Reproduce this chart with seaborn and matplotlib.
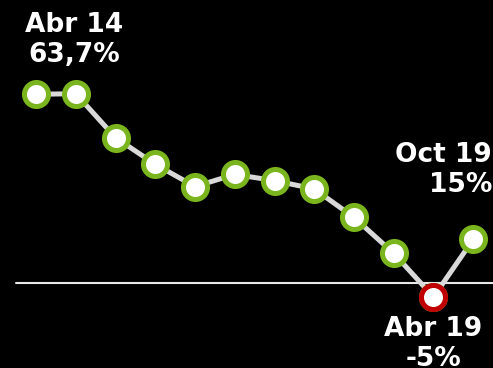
import matplotlib
matplotlib.use("Agg")
import matplotlib.pyplot as plt
import seaborn as sns
import pandas as pd

# Data (half-yearly values, %)
periods = ["Abr 14", "Oct 14", "Abr 15", "Oct 15", "Abr 16", "Oct 16",
           "Abr 17", "Oct 17", "Abr 18", "Oct 18", "Abr 19", "Oct 19"]
values = [63.7, 63.9, 49.1, 40.1, 32.6, 36.7, 34.6, 31.8, 22.2, 10.1, -4.6, 14.8]
labels = {0: "Abr 14\n63,7%", 10: "Abr 19\n-5%", 11: "Oct 19\n15%"}

df = pd.DataFrame({"idx": range(len(periods)), "period": periods, "value": values})
low = df.loc[[df["value"].idxmin()]]

sns.set_style("dark")
plt.rcParams["font.family"] = ["DejaVu Sans"]

fig = plt.figure(figsize=(4.93, 3.68), dpi=100, facecolor="black")
ax = fig.add_axes([0, 0, 1, 1])
ax.set_facecolor("black")

green = "#7ab51d"
red = "#c00000"

ax.axhline(0, xmin=16 / 493, xmax=1, color="#e8e8e8", lw=1.5, zorder=1)

sns.lineplot(data=df, x="idx", y="value", ax=ax, color="#d9d9d9", lw=3.6,
             marker="o", markersize=17.3, markerfacecolor="white",
             markeredgecolor=green, markeredgewidth=3.6, zorder=2)
sns.lineplot(data=low, x="idx", y="value", ax=ax, color=red, lw=0,
             marker="o", markersize=17.3, markerfacecolor="white",
             markeredgecolor=red, markeredgewidth=3.6, zorder=3)

# text labels
ax.annotate(labels[0], xy=(0, values[0]), xytext=(38, 82), textcoords="offset pixels",
            ha="center", va="top", color="white", fontsize=19, fontweight="bold",
            multialignment="center")
ax.annotate(labels[11], xy=(11, values[11]), xytext=(19, 97), textcoords="offset pixels",
            ha="right", va="top", color="white", fontsize=19, fontweight="bold",
            multialignment="right")
ax.annotate(labels[10], xy=(10, values[10]), xytext=(0, -19), textcoords="offset pixels",
            ha="center", va="top", color="white", fontsize=19, fontweight="bold",
            multialignment="center")

ax.set_xlim(-0.906, 11.497)
ax.set_ylim(-28.55, 95.48)
ax.set_axis_off()

plt.savefig("out.png", dpi=100, facecolor="black")
plt.close()
